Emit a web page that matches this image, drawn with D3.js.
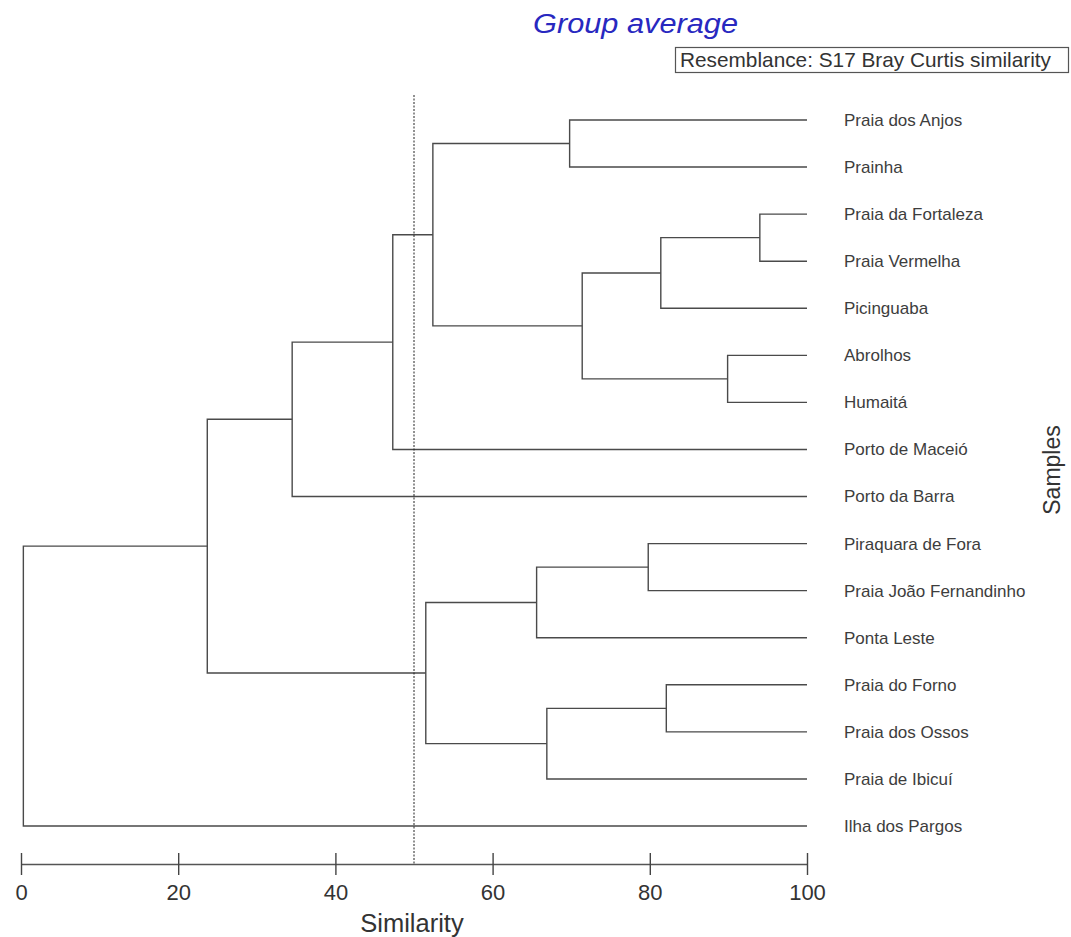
<!DOCTYPE html>
<html>
<head>
<meta charset="utf-8">
<script src="https://cdn.jsdelivr.net/npm/d3@7"></script>
<style>
  body { margin: 0; background: #fff; }
  svg text { font-family: "Liberation Sans", Arial, sans-serif; }
</style>
</head>
<body>
<div id="chart"></div>
<script>
// leaf order as drawn, top to bottom
const samples = [
  "Praia dos Anjos", "Prainha", "Praia da Fortaleza", "Praia Vermelha",
  "Picinguaba", "Abrolhos", "Humaitá", "Porto de Maceió", "Porto da Barra",
  "Piraquara de Fora", "Praia João Fernandinho", "Ponta Leste",
  "Praia do Forno", "Praia dos Ossos", "Praia de Ibicuí", "Ilha dos Pargos"
];

// merges: ids < 16 are samples, id 16 + k is merge k
const mergeA = [0, 2, 17, 5, 18, 16, 21, 22, 9, 24, 12, 26, 25, 23, 29];
const mergeB = [1, 3, 4, 6, 19, 20, 7, 8, 10, 11, 13, 14, 27, 28, 15];
const mergeSimilarity = [69.8, 94.0, 81.4, 89.9, 71.4, 52.4, 47.3, 34.5, 79.8, 65.6, 82.1, 66.9, 51.5, 23.7, 0.3];

const axisTicks = [0, 20, 40, 60, 80, 100];
const cutLevel = 50;

function drawDendrogram() {
    const width = 1071, height = 937;

    const svg = d3.select("#chart").append("svg")
        .attr("width", width)
        .attr("height", height);

    const x = d3.scaleLinear().domain([0, 100]).range([21, 807]);
    const y = d3.scalePoint().domain(samples).range([120, 826]);

    const n = samples.length;
    // position of every node
    const nodes = samples.map(s => ({ sim: 100, y: y(s) }));
    mergeA.forEach((a, k) => {
        const b = mergeB[k];
        nodes.push({ sim: mergeSimilarity[k], y: (nodes[a].y + nodes[b].y) / 2, a: a, b: b });
    });

    const lineColor = "#4a4a4a";
    const g = svg.append("g");

    nodes.slice(n).forEach(d => {
        const na = nodes[d.a], nb = nodes[d.b];
        const px = x(d.sim);
        g.append("path")
            .attr("d", `M${x(na.sim)},${na.y}H${px}V${nb.y}H${x(nb.sim)}`)
            .attr("fill", "none")
            .attr("stroke", lineColor)
            .attr("stroke-width", 1.4);
    });

    // cut line
    svg.append("line")
        .attr("x1", x(cutLevel)).attr("x2", x(cutLevel))
        .attr("y1", 95).attr("y2", 864)
        .attr("stroke", "#222")
        .attr("stroke-width", 1)
        .attr("stroke-dasharray", "2,1.5");

    // sample labels
    svg.selectAll(".leaf")
        .data(samples)
        .enter()
        .append("text")
        .attr("class", "leaf")
        .attr("x", 844)
        .attr("y", d => y(d))
        .attr("dy", "0.35em")
        .style("font-size", "17px")
        .style("fill", "#3d3d3d")
        .text(d => d);

    // axis
    const axis = svg.append("g")
        .attr("transform", "translate(0,864)")
        .call(d3.axisBottom(x).tickValues(axisTicks).tickSize(0).tickSizeOuter(0).tickPadding(0));
    axis.select(".domain").attr("stroke", "#555").attr("stroke-width", 1.6);
    axis.selectAll(".tick line")
        .attr("y1", -11).attr("y2", 11)
        .attr("stroke", "#444").attr("stroke-width", 1.4);
    axis.selectAll(".tick text")
        .attr("y", 36).attr("dy", 0)
        .style("font-size", "22px")
        .style("font-family", "'Liberation Sans', Arial, sans-serif")
        .style("fill", "#333");

    svg.append("text")
        .attr("x", x(50) - 2)
        .attr("y", 932)
        .style("text-anchor", "middle")
        .style("font-size", "25.5px")
        .style("fill", "#333")
        .text("Similarity");

    svg.append("text")
        .attr("transform", "translate(1060,470) rotate(-90)")
        .style("text-anchor", "middle")
        .style("font-size", "23px")
        .style("fill", "#333")
        .text("Samples");

    // title and resemblance box
    svg.append("text")
        .attr("x", 533)
        .attr("y", 33)
        .attr("textLength", 205)
        .attr("lengthAdjust", "spacingAndGlyphs")
        .style("font-size", "27px")
        .style("font-style", "italic")
        .style("fill", "#2828c0")
        .text("Group average");

    svg.append("rect")
        .attr("x", 675.5).attr("y", 47.5)
        .attr("width", 393).attr("height", 25)
        .attr("fill", "#fff")
        .attr("stroke", "#555")
        .attr("stroke-width", 1.2);

    svg.append("text")
        .attr("x", 680)
        .attr("y", 67)
        .style("font-size", "20.8px")
        .style("fill", "#333")
        .text("Resemblance: S17 Bray Curtis similarity");
}

drawDendrogram();
</script>
</body>
</html>
